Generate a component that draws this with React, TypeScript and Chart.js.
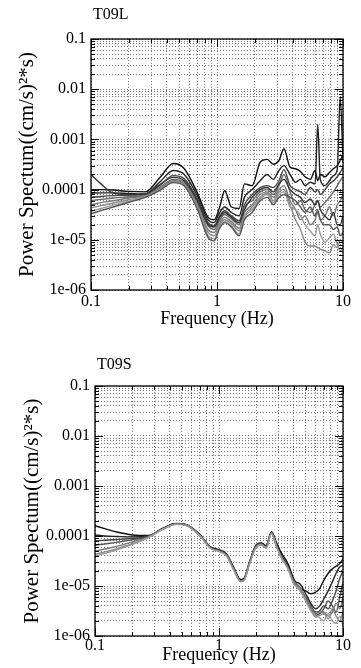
import React, { useEffect, useRef } from "react";
import { Chart, registerables } from "chart.js";

Chart.register(...registerables);

// ---------- tick labels ----------
const X_TICK_VALUES = [0.1, 1, 10];
const X_TICK_LABELS = ["0.1", "1", "10"];
const Y_TICK_VALUES = [0.1, 0.01, 0.001, 0.0001, 0.00001, 0.000001];
const Y_TICK_LABELS = ["0.1", "0.01", "0.001", "0.0001", "1e-05", "1e-06"];
const X_TITLE = "Frequency (Hz)";
const Y_TITLE = "Power Spectum((cm/s)\u00B2*s)";

// ---------- T09L ----------
const FREQ_L = [0.1, 0.12, 0.15, 0.2, 0.27, 0.35, 0.45, 0.55, 0.7, 0.85, 0.95, 1.05, 1.15, 1.3, 1.5, 1.65, 1.9, 2.2, 2.5, 2.8, 3.1, 3.4, 3.8, 4.2, 4.6, 5.0, 5.5, 6.0, 6.3, 6.6, 7.2, 7.8, 8.4, 9.0, 9.5, 10];
const T09L_1 = [1.0e-4, 1.0e-4, 9.8e-5, 9.2e-5, 9.0e-5, 1.7e-4, 3.3e-4, 2.6e-4, 8.5e-5, 2.8e-5, 2.5e-5, 4.5e-5, 9.5e-5, 4.5e-5, 4.2e-5, 1.3e-4, 1.2e-4, 3.5e-4, 4.0e-4, 3.2e-4, 3.8e-4, 6.5e-4, 2.8e-4, 2.6e-4, 2.3e-4, 1.8e-4, 1.6e-4, 2.4e-4, 1.5e-4, 2.0e-4, 1.8e-4, 2.2e-4, 2.6e-4, 3.0e-4, 3.8e-4, 5.0e-4];
const T09L_2 = [8.5e-5, 8.6e-5, 8.6e-5, 8.4e-5, 8.2e-5, 1.4e-4, 2.4e-4, 2.0e-4, 7.5e-5, 2.5e-5, 2.2e-5, 3.5e-5, 4.5e-5, 3.5e-5, 3.0e-5, 7.0e-5, 1.0e-4, 1.5e-4, 2.0e-4, 1.6e-4, 2.4e-4, 3.0e-4, 2.0e-4, 1.4e-4, 1.6e-4, 1.2e-4, 1.4e-4, 1.3e-4, 2.0e-3, 1.6e-4, 1.2e-4, 1.5e-4, 1.9e-4, 2.5e-4, 7.0e-3, 3.5e-4];
const T09L_3 = [7.0e-5, 7.3e-5, 7.6e-5, 7.8e-5, 8.0e-5, 1.2e-4, 1.9e-4, 1.65e-4, 6.5e-5, 2.2e-5, 1.9e-5, 3.0e-5, 3.8e-5, 3.0e-5, 2.4e-5, 5.0e-5, 8.0e-5, 1.1e-4, 1.2e-4, 1.1e-4, 1.5e-4, 2.5e-4, 1.2e-4, 1.0e-4, 9.0e-5, 8.0e-5, 1.1e-4, 9.0e-5, 1.0e-4, 8.0e-5, 1.0e-4, 1.3e-4, 1.5e-4, 1.8e-4, 2.2e-4, 2.8e-4];
const T09L_4 = [6.0e-5, 6.4e-5, 6.8e-5, 7.2e-5, 7.8e-5, 1.1e-4, 1.6e-4, 1.4e-4, 5.5e-5, 1.9e-5, 1.6e-5, 2.5e-5, 3.2e-5, 2.6e-5, 2.0e-5, 4.5e-5, 6.0e-5, 9.0e-5, 1.0e-4, 8.0e-5, 1.2e-4, 2.0e-4, 9.0e-5, 5.0e-5, 6.0e-5, 4.0e-5, 3.5e-5, 5.0e-5, 6.0e-5, 4.5e-5, 5.5e-5, 7.0e-5, 9.0e-5, 1.2e-4, 1.5e-4, 1.8e-4];
const T09L_5 = [5.0e-5, 5.5e-5, 6.0e-5, 6.8e-5, 7.6e-5, 1.05e-4, 1.5e-4, 1.3e-4, 5.0e-5, 1.6e-5, 1.4e-5, 2.2e-5, 2.8e-5, 2.3e-5, 1.7e-5, 3.5e-5, 5.0e-5, 8.0e-5, 9.0e-5, 7.0e-5, 1.0e-4, 1.2e-4, 6.0e-5, 4.0e-5, 2.5e-5, 3.0e-5, 2.0e-5, 2.5e-5, 3.5e-5, 2.5e-5, 3.0e-5, 4.5e-5, 3.0e-5, 5.0e-5, 6.0e-5, 8.0e-5];
const T09L_6 = [4.3e-5, 4.8e-5, 5.4e-5, 6.3e-5, 7.4e-5, 1.0e-4, 1.45e-4, 1.25e-4, 4.6e-5, 1.4e-5, 1.2e-5, 2.0e-5, 2.5e-5, 2.1e-5, 1.5e-5, 3.0e-5, 4.5e-5, 7.0e-5, 8.5e-5, 6.0e-5, 9.0e-5, 1.0e-4, 5.0e-5, 2.5e-5, 1.6e-5, 9.0e-6, 7.5e-6, 7.5e-6, 7.0e-6, 6.5e-6, 6.0e-6, 5.5e-6, 8.0e-6, 7.0e-6, 1.0e-5, 9.0e-6];
const T09L_7 = [3.7e-5, 4.2e-5, 4.9e-5, 5.9e-5, 7.2e-5, 9.8e-5, 1.4e-4, 1.2e-4, 4.3e-5, 1.2e-5, 1.05e-5, 1.8e-5, 2.3e-5, 1.9e-5, 1.3e-5, 2.8e-5, 4.0e-5, 6.5e-5, 8.0e-5, 5.5e-5, 8.0e-5, 9.0e-5, 4.5e-5, 4.0e-5, 3.0e-5, 2.0e-5, 1.5e-5, 1.2e-5, 2.0e-5, 1.3e-5, 9.0e-6, 1.1e-5, 1.3e-5, 8.0e-6, 6.0e-6, 7.0e-6];
const T09L_8 = [3.3e-5, 3.8e-5, 4.5e-5, 5.6e-5, 7.0e-5, 9.5e-5, 1.38e-4, 1.18e-4, 4.0e-5, 1.1e-5, 9.5e-6, 1.7e-5, 2.2e-5, 1.8e-5, 1.2e-5, 2.5e-5, 3.5e-5, 6.0e-5, 7.0e-5, 5.0e-5, 7.0e-5, 8.0e-5, 7.0e-5, 6.0e-5, 4.5e-5, 3.5e-5, 4.5e-5, 3.0e-5, 4.0e-5, 2.5e-5, 2.0e-5, 2.0e-5, 1.6e-5, 1.8e-5, 1.2e-5, 1.4e-5];
const T09L_9 = [2.0e-4, 1.3e-4, 8.5e-5, 8.0e-5, 8.2e-5, 1.25e-4, 1.75e-4, 1.5e-4, 6.0e-5, 2.0e-5, 1.8e-5, 2.8e-5, 3.5e-5, 2.8e-5, 2.2e-5, 4.0e-5, 7.0e-5, 1.0e-4, 1.1e-4, 9.0e-5, 1.3e-4, 1.6e-4, 1.0e-4, 8.0e-5, 7.0e-5, 5.5e-5, 6.5e-5, 5.0e-5, 6.0e-5, 4.0e-5, 3.0e-5, 2.5e-5, 3.5e-5, 2.0e-5, 2.0e-5, 3.0e-5];
const T09L_SERIES = [T09L_1, T09L_2, T09L_3, T09L_4, T09L_5, T09L_6, T09L_7, T09L_8, T09L_9];
const T09L_COLORS = ["#111111", "#222222", "#444444", "#666666", "#777777", "#888888", "#999999", "#555555", "#333333"];

// ---------- T09S ----------
const FREQ_S = [0.1, 0.12, 0.15, 0.2, 0.27, 0.35, 0.45, 0.55, 0.7, 0.85, 1.0, 1.15, 1.3, 1.5, 1.6, 1.75, 2.0, 2.2, 2.4, 2.65, 2.9, 3.2, 3.6, 4.0, 4.5, 5.0, 5.5, 6.0, 6.5, 7.0, 7.6, 8.2, 8.8, 9.4, 10];
const T09S_1 = [1.6e-4, 1.4e-4, 1.2e-4, 1.05e-4, 1.02e-4, 1.42e-4, 1.78e-4, 1.67e-4, 1.07e-4, 6.1e-5, 5.3e-5, 4.4e-5, 2.5e-5, 1.35e-5, 1.45e-5, 2.9e-5, 6.7e-5, 7.3e-5, 6.4e-5, 1.22e-4, 7.5e-5, 4.5e-5, 2.8e-5, 1.4e-5, 9.0e-6, 8.0e-6, 7.0e-6, 7.5e-6, 9.0e-6, 1.3e-5, 1.8e-5, 2.2e-5, 2.5e-5, 2.8e-5, 3.5e-5];
const T09S_2 = [1.05e-4, 1.0e-4, 9.8e-5, 9.6e-5, 1.0e-4, 1.4e-4, 1.76e-4, 1.66e-4, 1.06e-4, 6.0e-5, 5.2e-5, 4.3e-5, 2.4e-5, 1.3e-5, 1.4e-5, 2.8e-5, 6.6e-5, 7.2e-5, 6.3e-5, 1.2e-4, 7.0e-5, 4.0e-5, 2.5e-5, 1.3e-5, 1.1e-5, 7.0e-6, 4.5e-6, 3.5e-6, 4.0e-6, 5.5e-6, 8.0e-6, 1.2e-5, 1.8e-5, 2.4e-5, 2.6e-5];
const T09S_3 = [8.0e-5, 8.2e-5, 8.5e-5, 9.0e-5, 9.9e-5, 1.39e-4, 1.75e-4, 1.64e-4, 1.05e-4, 5.9e-5, 5.1e-5, 4.2e-5, 2.35e-5, 1.28e-5, 1.38e-5, 2.75e-5, 6.4e-5, 7.0e-5, 6.1e-5, 1.18e-4, 6.6e-5, 3.8e-5, 2.4e-5, 1.2e-5, 9.0e-6, 6.0e-6, 4.0e-6, 3.0e-6, 3.2e-6, 4.0e-6, 3.5e-6, 5.0e-6, 8.0e-6, 1.4e-5, 2.0e-5];
const T09S_4 = [6.5e-5, 6.9e-5, 7.5e-5, 8.4e-5, 9.7e-5, 1.38e-4, 1.74e-4, 1.63e-4, 1.04e-4, 5.85e-5, 5.05e-5, 4.15e-5, 2.3e-5, 1.26e-5, 1.36e-5, 2.7e-5, 6.3e-5, 6.9e-5, 6.0e-5, 1.16e-4, 6.5e-5, 3.7e-5, 2.35e-5, 1.2e-5, 8.5e-6, 5.5e-6, 3.5e-6, 2.6e-6, 2.8e-6, 3.5e-6, 5.0e-6, 4.0e-6, 3.0e-6, 6.0e-6, 1.2e-5];
const T09S_5 = [5.0e-5, 5.5e-5, 6.2e-5, 7.6e-5, 9.6e-5, 1.37e-4, 1.73e-4, 1.62e-4, 1.03e-4, 5.8e-5, 5.0e-5, 4.1e-5, 2.28e-5, 1.25e-5, 1.35e-5, 2.68e-5, 6.2e-5, 6.8e-5, 5.9e-5, 1.15e-4, 6.4e-5, 3.65e-5, 2.3e-5, 1.25e-5, 9.5e-6, 5.8e-6, 3.8e-6, 2.8e-6, 3.0e-6, 3.0e-6, 2.5e-6, 3.0e-6, 4.5e-6, 3.5e-6, 6.0e-6];
const T09S_6 = [4.3e-5, 4.8e-5, 5.6e-5, 7.0e-5, 9.4e-5, 1.36e-4, 1.72e-4, 1.61e-4, 1.02e-4, 5.75e-5, 4.95e-5, 4.05e-5, 2.25e-5, 1.23e-5, 1.33e-5, 2.65e-5, 6.1e-5, 6.7e-5, 5.8e-5, 1.13e-4, 6.3e-5, 3.6e-5, 2.25e-5, 1.15e-5, 8.0e-6, 5.2e-6, 3.3e-6, 2.4e-6, 2.6e-6, 2.8e-6, 2.2e-6, 3.5e-6, 2.5e-6, 2.0e-6, 3.0e-6];
const T09S_7 = [4.0e-5, 4.5e-5, 5.3e-5, 6.8e-5, 9.3e-5, 1.35e-4, 1.71e-4, 1.6e-4, 1.01e-4, 5.7e-5, 4.9e-5, 4.0e-5, 2.2e-5, 1.22e-5, 1.32e-5, 2.6e-5, 6.0e-5, 6.6e-5, 5.7e-5, 1.12e-4, 6.2e-5, 3.55e-5, 2.2e-5, 1.1e-5, 8.8e-6, 5.0e-6, 3.2e-6, 2.5e-6, 2.3e-6, 2.0e-6, 2.8e-6, 2.0e-6, 1.8e-6, 2.5e-6, 1.6e-6];
const T09S_SERIES = [T09S_1, T09S_2, T09S_3, T09S_4, T09S_5, T09S_6, T09S_7];
const T09S_COLORS = ["#111111", "#222222", "#444444", "#555555", "#777777", "#888888", "#999999"];

const FONT = '"Liberation Serif", "Times New Roman", serif';

function isDecade(v: number) {
  const l = Math.log10(v);
  return Math.abs(l - Math.round(l)) < 1e-6;
}
function labelFor(v: number, values: number[], labels: string[]) {
  for (let i = 0; i < values.length; i++) {
    if (Math.abs(Math.log10(values[i]) - Math.log10(v)) < 1e-6) return labels[i];
  }
  return "";
}
function logGrid(minExp: number, maxExp: number) {
  const out: number[] = [];
  for (let e = minExp; e < maxExp; e++) {
    for (let m = 1; m <= 9; m++) out.push(m * Math.pow(10, e));
  }
  out.push(Math.pow(10, maxExp));
  return out;
}

const framePlugin = {
  id: "frame",
  afterDatasetsDraw(chart: any, _args: any, opts: any) {
    const { ctx, chartArea: a, scales } = chart;
    ctx.save();
    ctx.setLineDash([]);
    ctx.strokeStyle = "#000";
    ctx.lineWidth = 1;
    const line = (x1: number, y1: number, x2: number, y2: number) => {
      ctx.beginPath();
      ctx.moveTo(x1, y1);
      ctx.lineTo(x2, y2);
      ctx.stroke();
    };
    for (const t of scales.x.ticks) {
      const px = Math.round(scales.x.getPixelForValue(t.value)) + 0.5;
      const len = isDecade(t.value) ? 8 : 4;
      line(px, a.bottom, px, a.bottom - len);
      line(px, a.top, px, a.top + len);
    }
    for (const t of scales.y.ticks) {
      const py = Math.round(scales.y.getPixelForValue(t.value)) + 0.5;
      const len = isDecade(t.value) ? 8 : 4;
      line(a.left, py, a.left + len, py);
      line(a.right, py, a.right - len, py);
    }
    ctx.lineWidth = 1.3;
    ctx.strokeRect(a.left, a.top, a.right - a.left, a.bottom - a.top);
    ctx.fillStyle = "#000";
    ctx.font = `16px ${FONT}`;
    ctx.textBaseline = "middle";
    ctx.textAlign = "left";
    ctx.fillText(opts.text, a.left + opts.dx, opts.y);
    ctx.restore();
  },
};

type PanelProps = {
  title: string;
  freq: number[];
  series: number[][];
  colors: string[];
  yAxisWidth: number;
  xAxisHeight: number;
  padTop: number;
  padBottom: number;
  yTitlePad: number;
  xTickPad: number;
  titleY: number;
};

function Panel(p: PanelProps) {
  const ref = useRef<HTMLCanvasElement | null>(null);
  useEffect(() => {
    if (!ref.current) return;
    const n = p.series.length;
    const datasets = p.series.map((vals, i) => ({
      data: vals.map((v, j) => ({ x: p.freq[j], y: v })),
      borderColor: p.colors[i],
      borderWidth: 1.4,
      pointRadius: 0,
      fill: false,
      order: n - i,
      cubicInterpolationMode: "monotone" as const,
    }));
    const chart = new Chart(ref.current, {
      type: "line",
      data: { datasets },
      plugins: [framePlugin],
      options: {
        animation: false,
        responsive: false,
        layout: { padding: { left: 0, right: 18, top: p.padTop, bottom: p.padBottom } },
        plugins: {
          legend: { display: false },
          tooltip: { enabled: false },
          // @ts-ignore
          frame: { text: p.title, dx: 2, y: p.titleY },
        },
        scales: {
          x: {
            type: "logarithmic",
            position: "bottom",
            min: 0.1,
            max: 10,
            afterBuildTicks: (s: any) => {
              s.ticks = logGrid(-1, 1).map((v) => ({ value: v }));
            },
            afterFit: (s: any) => {
              s.height = p.xAxisHeight;
            },
            ticks: {
              autoSkip: false,
              maxRotation: 0,
              padding: p.xTickPad,
              color: "#000",
              font: { family: FONT, size: 16 },
              callback: (v: any) => (isDecade(Number(v)) ? labelFor(Number(v), X_TICK_VALUES, X_TICK_LABELS) : ""),
            },
            grid: { color: "#7a7a7a", lineWidth: 1, drawTicks: false },
            border: { display: false, dash: [1, 2] },
            title: {
              display: true,
              text: X_TITLE,
              color: "#000",
              font: { family: FONT, size: 18 },
              padding: { top: 0, bottom: 0 },
            },
          },
          y: {
            type: "logarithmic",
            position: "left",
            min: 1e-6,
            max: 0.1,
            afterBuildTicks: (s: any) => {
              s.ticks = logGrid(-6, -1).map((v) => ({ value: v }));
            },
            afterFit: (s: any) => {
              s.width = p.yAxisWidth;
            },
            ticks: {
              autoSkip: false,
              padding: 5,
              color: "#000",
              font: { family: FONT, size: 16 },
              callback: (v: any) => (isDecade(Number(v)) ? labelFor(Number(v), Y_TICK_VALUES, Y_TICK_LABELS) : ""),
            },
            grid: { color: "#7a7a7a", lineWidth: 1, drawTicks: false },
            border: { display: false, dash: [1, 2] },
            title: {
              display: true,
              text: Y_TITLE,
              color: "#000",
              font: { family: FONT, size: 21 },
              padding: { top: p.yTitlePad, bottom: 0 },
            },
          },
        },
      },
    });
    return () => chart.destroy();
  }, []);
  return <canvas ref={ref} width={361} height={334} style={{ display: "block", width: 361, height: 334 }} />;
}

export default function App() {
  return (
    <div style={{ position: "absolute", left: 0, top: 0, width: 361, height: 668, background: "#fff" }}>
      <Panel
        title="T09L"
        freq={FREQ_L}
        series={T09L_SERIES}
        colors={T09L_COLORS}
        yAxisWidth={91}
        xAxisHeight={40}
        padTop={39}
        padBottom={4}
        yTitlePad={15}
        xTickPad={2}
        titleY={15}
      />
      <Panel
        title="T09S"
        freq={FREQ_S}
        series={T09S_SERIES}
        colors={T09S_COLORS}
        yAxisWidth={95}
        xAxisHeight={30}
        padTop={52}
        padBottom={2}
        yTitlePad={20}
        xTickPad={0}
        titleY={31}
      />
    </div>
  );
}
